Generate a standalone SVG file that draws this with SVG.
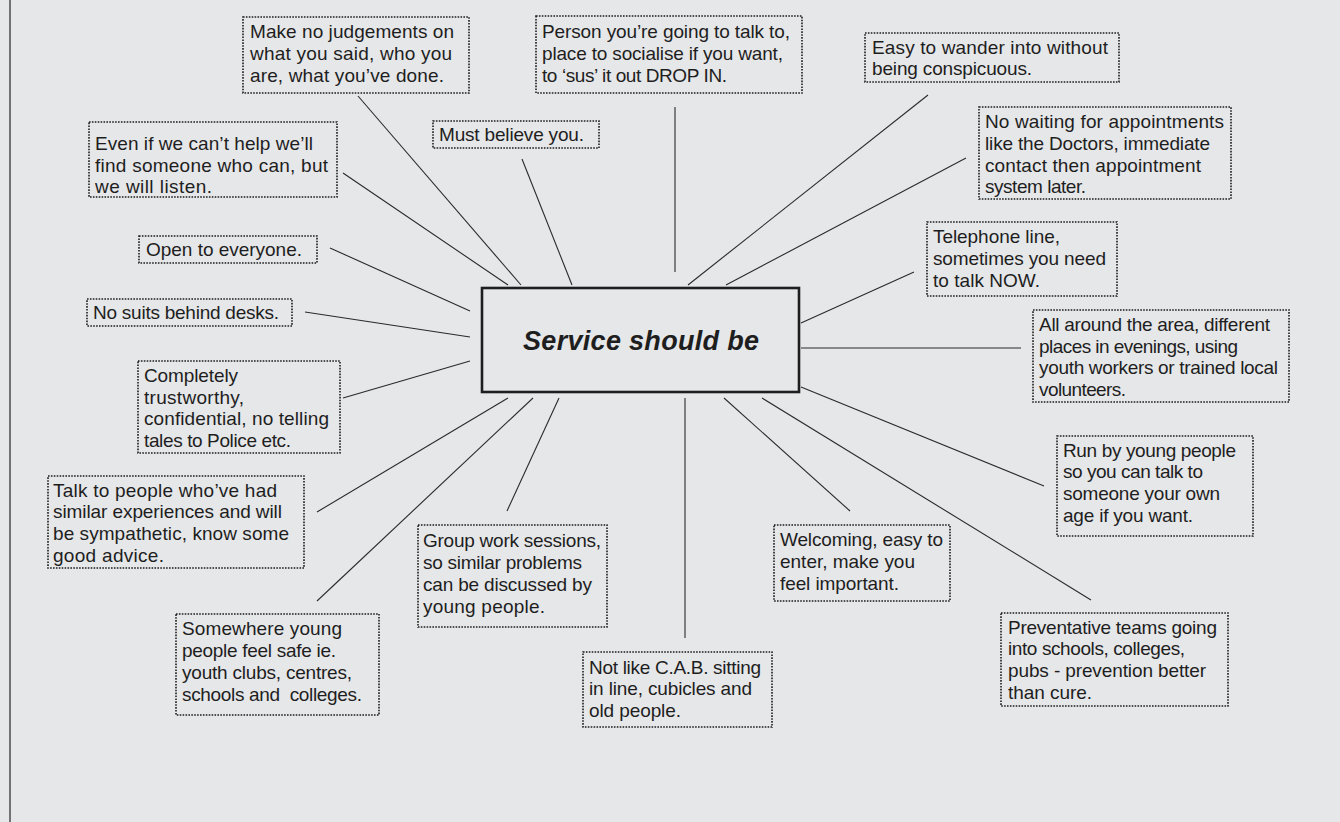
<svg xmlns="http://www.w3.org/2000/svg" width="1340" height="822" viewBox="0 0 1340 822">
<style>
.bg{fill:#e6e7e9}
.box{fill:none;stroke:#1e1e1e;stroke-width:1.6;stroke-dasharray:1.6 1.3}
.t{font-family:"Liberation Sans",Arial,sans-serif;font-size:19px;fill:#1e1e1e}
.c{stroke:#2a2a2a;stroke-width:1.1;fill:none}
.main{fill:none;stroke:#1e1e1e;stroke-width:2.6}
.title{font-family:"Liberation Sans",Arial,sans-serif;font-size:27px;font-weight:bold;font-style:italic;fill:#1e1e1e}
</style>
<rect class="bg" x="0" y="0" width="1340" height="822"/>
<line x1="10" y1="0" x2="10" y2="822" stroke="#555" stroke-width="1.6"/>
<g id="connectors">
<line class="c" x1="358" y1="96" x2="521" y2="285"/>
<line class="c" x1="343" y1="173" x2="508" y2="285"/>
<line class="c" x1="522" y1="159" x2="572" y2="285"/>
<line class="c" x1="675" y1="107" x2="675" y2="272"/>
<line class="c" x1="928" y1="95" x2="688" y2="285"/>
<line class="c" x1="966" y1="158" x2="726" y2="285"/>
<line class="c" x1="914" y1="272" x2="801" y2="323"/>
<line class="c" x1="801" y1="348" x2="1021" y2="348"/>
<line class="c" x1="801" y1="387" x2="1044" y2="486"/>
<line class="c" x1="762" y1="398" x2="1091" y2="600"/>
<line class="c" x1="724" y1="398" x2="850" y2="511"/>
<line class="c" x1="685" y1="398" x2="685" y2="638"/>
<line class="c" x1="559" y1="398" x2="507" y2="511"/>
<line class="c" x1="533" y1="398" x2="317" y2="601"/>
<line class="c" x1="508" y1="398" x2="317" y2="512"/>
<line class="c" x1="343" y1="398" x2="470" y2="361"/>
<line class="c" x1="305" y1="312" x2="470" y2="337"/>
<line class="c" x1="330" y1="248" x2="470" y2="311"/>
</g>
<g id="center">
<rect class="main" x="482" y="288" width="317" height="104"/>
<text class="title" x="523" y="350" textLength="236">Service should be</text>
</g>
<g id="n-judgements">
<rect class="box" x="243" y="17" width="226" height="76"/>
<text class="t" x="250" y="38" textLength="204">Make no judgements on</text>
<text class="t" x="250" y="60" textLength="202">what you said, who you</text>
<text class="t" x="250" y="82" textLength="194">are, what you’ve done.</text>
</g>
<g id="n-evenif">
<rect class="box" x="89" y="122" width="248" height="75"/>
<text class="t" x="95" y="150" textLength="218">Even if we can’t help we’ll</text>
<text class="t" x="95" y="172" textLength="233">find someone who can, but</text>
<text class="t" x="95" y="193" textLength="117">we will listen.</text>
</g>
<g id="n-believe">
<rect class="box" x="433" y="121" width="166" height="27"/>
<text class="t" x="439" y="141" textLength="145">Must believe you.</text>
</g>
<g id="n-person">
<rect class="box" x="536" y="16" width="266" height="77"/>
<text class="t" x="542" y="38" textLength="248">Person you’re going to talk to,</text>
<text class="t" x="542" y="60" textLength="241">place to socialise if you want,</text>
<text class="t" x="542" y="82" textLength="185">to ‘sus’ it out DROP IN.</text>
</g>
<g id="n-easy">
<rect class="box" x="865" y="33" width="254" height="49"/>
<text class="t" x="872" y="54" textLength="236">Easy to wander into without</text>
<text class="t" x="872" y="75" textLength="160">being conspicuous.</text>
</g>
<g id="n-waiting">
<rect class="box" x="979" y="107" width="252" height="92"/>
<text class="t" x="985" y="128" textLength="239">No waiting for appointments</text>
<text class="t" x="985" y="150" textLength="225">like the Doctors, immediate</text>
<text class="t" x="985" y="172" textLength="216">contact then appointment</text>
<text class="t" x="985" y="193" textLength="101">system later.</text>
</g>
<g id="n-telephone">
<rect class="box" x="927" y="222" width="190" height="74"/>
<text class="t" x="933" y="243" textLength="127">Telephone line,</text>
<text class="t" x="933" y="265" textLength="173">sometimes you need</text>
<text class="t" x="933" y="287" textLength="107">to talk NOW.</text>
</g>
<g id="n-around">
<rect class="box" x="1033" y="310" width="256" height="92"/>
<text class="t" x="1039" y="331" textLength="231">All around the area, different</text>
<text class="t" x="1039" y="353" textLength="199">places in evenings, using</text>
<text class="t" x="1039" y="374" textLength="239">youth workers or trained local</text>
<text class="t" x="1039" y="396" textLength="87">volunteers.</text>
</g>
<g id="n-runby">
<rect class="box" x="1057" y="436" width="196" height="100"/>
<text class="t" x="1063" y="457" textLength="173">Run by young people</text>
<text class="t" x="1063" y="478" textLength="140">so you can talk to</text>
<text class="t" x="1063" y="500" textLength="157">someone your own</text>
<text class="t" x="1063" y="522" textLength="130">age if you want.</text>
</g>
<g id="n-preventative">
<rect class="box" x="1001" y="613" width="227" height="93"/>
<text class="t" x="1008" y="634" textLength="209">Preventative teams going</text>
<text class="t" x="1008" y="655" textLength="177">into schools, colleges,</text>
<text class="t" x="1008" y="677" textLength="198">pubs - prevention better</text>
<text class="t" x="1008" y="699" textLength="84">than cure.</text>
</g>
<g id="n-welcoming">
<rect class="box" x="774" y="525" width="176" height="76"/>
<text class="t" x="780" y="546" textLength="163">Welcoming, easy to</text>
<text class="t" x="780" y="568" textLength="135">enter, make you</text>
<text class="t" x="780" y="590" textLength="119">feel important.</text>
</g>
<g id="n-cab">
<rect class="box" x="583" y="652" width="189" height="75"/>
<text class="t" x="589" y="674" textLength="172">Not like C.A.B. sitting</text>
<text class="t" x="589" y="695" textLength="163">in line, cubicles and</text>
<text class="t" x="589" y="717" textLength="92">old people.</text>
</g>
<g id="n-group">
<rect class="box" x="418" y="525" width="189" height="102"/>
<text class="t" x="423" y="547" textLength="178">Group work sessions,</text>
<text class="t" x="423" y="569" textLength="159">so similar problems</text>
<text class="t" x="423" y="591" textLength="169">can be discussed by</text>
<text class="t" x="423" y="613" textLength="122">young people.</text>
</g>
<g id="n-somewhere">
<rect class="box" x="176" y="614" width="203" height="101"/>
<text class="t" x="182" y="635" textLength="160">Somewhere young</text>
<text class="t" x="182" y="657" textLength="154">people feel safe ie.</text>
<text class="t" x="182" y="679" textLength="170">youth clubs, centres,</text>
<text class="t" x="182" y="701" textLength="180" xml:space="preserve">schools and  colleges.</text>
</g>
<g id="n-talk">
<rect class="box" x="48" y="476" width="256" height="92"/>
<text class="t" x="53" y="497" textLength="224">Talk to people who’ve had</text>
<text class="t" x="53" y="518" textLength="229">similar experiences and will</text>
<text class="t" x="53" y="540" textLength="236">be sympathetic, know some</text>
<text class="t" x="53" y="562" textLength="111">good advice.</text>
</g>
<g id="n-trustworthy">
<rect class="box" x="138" y="361" width="202" height="92"/>
<text class="t" x="144" y="382" textLength="94">Completely</text>
<text class="t" x="144" y="404" textLength="100">trustworthy,</text>
<text class="t" x="144" y="425" textLength="185">confidential, no telling</text>
<text class="t" x="144" y="447" textLength="147">tales to Police etc.</text>
</g>
<g id="n-suits">
<rect class="box" x="87" y="299" width="205" height="27"/>
<text class="t" x="93" y="319" textLength="186">No suits behind desks.</text>
</g>
<g id="n-open">
<rect class="box" x="139" y="236" width="178" height="27"/>
<text class="t" x="146" y="256" textLength="156">Open to everyone.</text>
</g>
</svg>
